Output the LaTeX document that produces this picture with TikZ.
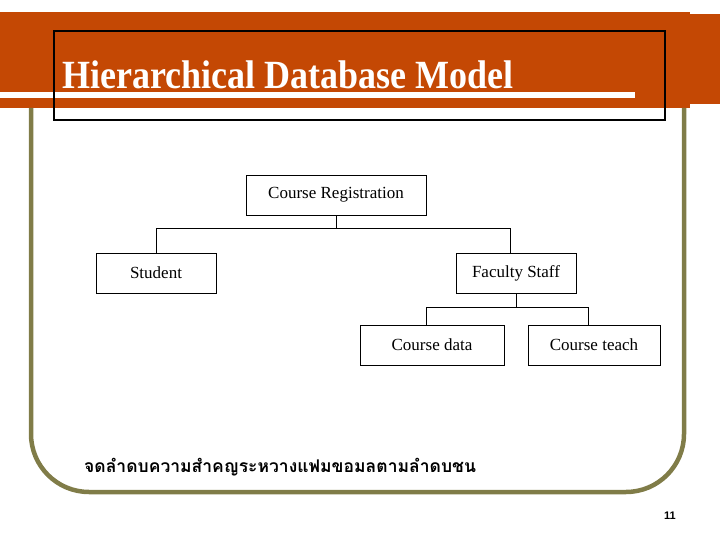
\documentclass[tikz,border=0pt]{standalone}
\usepackage{fontspec}
\setmainfont{Liberation Serif}
\newfontfamily\thaifont[Script=Thai]{Loma}
\newfontfamily\sansf{Liberation Sans}
\definecolor{band}{RGB}{196,72,4}
\definecolor{olive}{RGB}{128,124,72}
\tikzset{ent/.style={draw,line width=0.6pt,minimum height=40pt,inner sep=0pt,font=\fontsize{17}{19}\selectfont},
 conn/.style={line width=0.6pt}}
\begin{document}
\begin{tikzpicture}[x=1pt,y=-1pt]
\useasboundingbox (0,0) rectangle (720,540);
\fill[band] (0,12) rectangle (690,108);
\fill[band] (690,14) rectangle (720,104);
\fill[white] (0,92) rectangle (635,98);
\draw[olive,line width=4.5pt,rounded corners=58pt] (31,108) -- (31,492) -- (684,492) -- (684,108);
\draw[line width=2.5pt] (54,31) rectangle (665,120);
\node[anchor=base west,text=white,inner sep=0pt,font=\bfseries\fontsize{40}{44}\selectfont,xscale=0.9] (title) at (62,89) {Hierarchical Database Model};
\node[ent,minimum width=180pt] (cr) at (336,195) {Course Registration};
\node[ent,minimum width=120pt] (st) at (156,273) {Student};
\node[ent,minimum width=120pt] (fs) at (516,273) {Faculty Staff};
\node[ent,minimum width=144pt] (cd) at (432,345) {Course data};
\node[ent,minimum width=132pt] (ct) at (594,345) {Course teach};
\coordinate (j1) at (336,228);
\coordinate (j2) at (516,307);
\draw[conn] (cr.south) -- (j1);
\draw[conn] (st.north) -- (156,228) -- (510,228) -- (510,253);
\draw[conn] (fs.south) -- (j2);
\draw[conn] (426,325) -- (426,307) -- (588,307) -- (588,325);
\node[anchor=base west,inner sep=0pt,font=\thaifont\bfseries\fontsize{17.5}{20}\selectfont] (th) at (84,472) {จดลำดบความสำคญระหวางแฟมขอมลตามลำดบชน};
\node[font=\sansf\bfseries\fontsize{11}{12}\selectfont] (pg) at (670,516) {11};
\end{tikzpicture}
\end{document}
